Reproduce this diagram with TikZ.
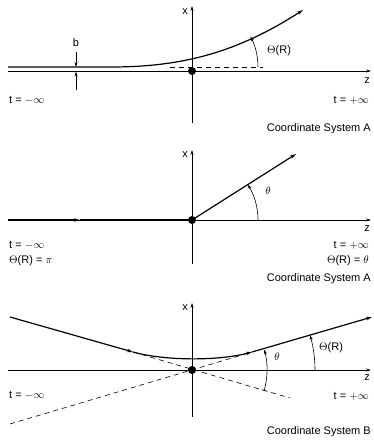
\documentclass[tikz,border=0pt]{standalone}
\usepackage{fontspec}
\setmainfont{Liberation Sans}
\usetikzlibrary{arrows.meta}

\begin{document}
\begin{tikzpicture}[x=1pt, y=-1pt,
    axis/.style={line width=0.6pt, -{Stealth[length=5pt,width=3pt]}},
    traj/.style={line width=1.2pt},
    tip/.style={-{Stealth[length=6pt,width=3.5pt]}},
    guide/.style={dash pattern=on 5pt off 4pt, line width=0.6pt},
    angmark/.style={line width=0.6pt, -{Stealth[length=5pt,width=3pt]}},
    origin/.style={circle, fill, inner sep=0pt, minimum size=8pt},
    lbl/.style={font=\fontsize{11}{12}\selectfont, inner sep=1pt},
]
  \useasboundingbox (0,0) rectangle (373,445);

  % top panel: deflected trajectory, impact parameter b
  \node[origin] (o1) at (192,71) {};
  \draw[axis] (8,71) -- (371,71);
  \draw[axis] (192,123) -- (192,6);
  \node[lbl, anchor=east] (x1) at (189,12) {x};
  \node[lbl] (z1) at (367,81) {z};
  \draw[traj, tip] (8,67) -- (110,67) .. controls (175,67) and (232,56) .. (303,10);
  \draw[guide] (170,67) -- (263,67);
  \draw[angmark] (258,67) arc[start angle=0, end angle=-28, radius=65];
  \node[lbl, anchor=west] (th1) at (266,51) {$\Theta$(R)};
  \draw[angmark] (76,52) -- (76,67);
  \draw[angmark] (76,90) -- (76,71.5);
  \node[lbl] (b) at (76,43) {b};
  \node[lbl, anchor=west] (tm1) at (8,100) {t = $-\infty$};
  \node[lbl, anchor=east] (tp1) at (370,100) {t = $+\infty$};
  \node[lbl, anchor=east] (cs1) at (372,129) {Coordinate System A};

  % middle panel: sudden deflection at the origin
  \node[origin] (o2) at (192,220) {};
  \draw[axis] (8,220) -- (371,220);
  \draw[axis] (192,264) -- (192,150);
  \node[lbl, anchor=east] (x2) at (189,155) {x};
  \node[lbl] (z2) at (367,229) {z};
  \draw[traj, tip] (8,220) -- (80,220);
  \draw[traj] (80,220) -- (o2.center);
  \draw[traj, tip] (o2.center) -- (296,154);
  \draw[angmark] (258,220) arc[start angle=0, end angle=-32.4, radius=66];
  \node[lbl] (th2) at (268,191) {$\theta$};
  \node[lbl, anchor=west] (tm2) at (8,245) {t = $-\infty$};
  \node[lbl, anchor=west] (tr2) at (8,261) {$\Theta$(R) = $\pi$};
  \node[lbl, anchor=east] (tp2) at (370,245) {t = $+\infty$};
  \node[lbl, anchor=east] (tq2) at (370,261) {$\Theta$(R) = $\theta$};
  \node[lbl, anchor=east] (cs2) at (372,279) {Coordinate System A};

  % bottom panel: symmetric trajectory
  \node[origin] (o3) at (192,370) {};
  \draw[axis] (8,370) -- (371,370);
  \draw[axis] (192,417) -- (192,303);
  \node[lbl, anchor=east] (x3) at (189,308) {x};
  \node[lbl, inner sep=0pt] (z3) at (367,378) {z};
  \draw[guide] (10,424) -- (252,352);
  \draw[guide] (133,352) -- (290,398);
  \draw[traj, tip] (10,317) -- (133,352);
  \draw[traj, tip] (133,352) .. controls (165,361) and (219,361) .. (252,352);
  \draw[traj, tip] (252,352) -- (372,317);
  \draw[line width=0.6pt, {Bar[width=4pt]}-{Stealth[length=5pt,width=3pt]}]
    (264.1,390.7) arc[start angle=16, end angle=-16, radius=75];
  \node[lbl] (th3) at (277,357) {$\theta$};
  \draw[angmark] (315,370) arc[start angle=0, end angle=-16.5, radius=123];
  \node[lbl, anchor=west] (tr3) at (318,348) {$\Theta$(R)};
  \node[lbl, anchor=west] (tm3) at (8,395) {t = $-\infty$};
  \node[lbl, anchor=east] (tp3) at (370,396) {t = $+\infty$};
  \node[lbl, anchor=east] (cs3) at (372,432) {Coordinate System B};
\end{tikzpicture}
\end{document}
